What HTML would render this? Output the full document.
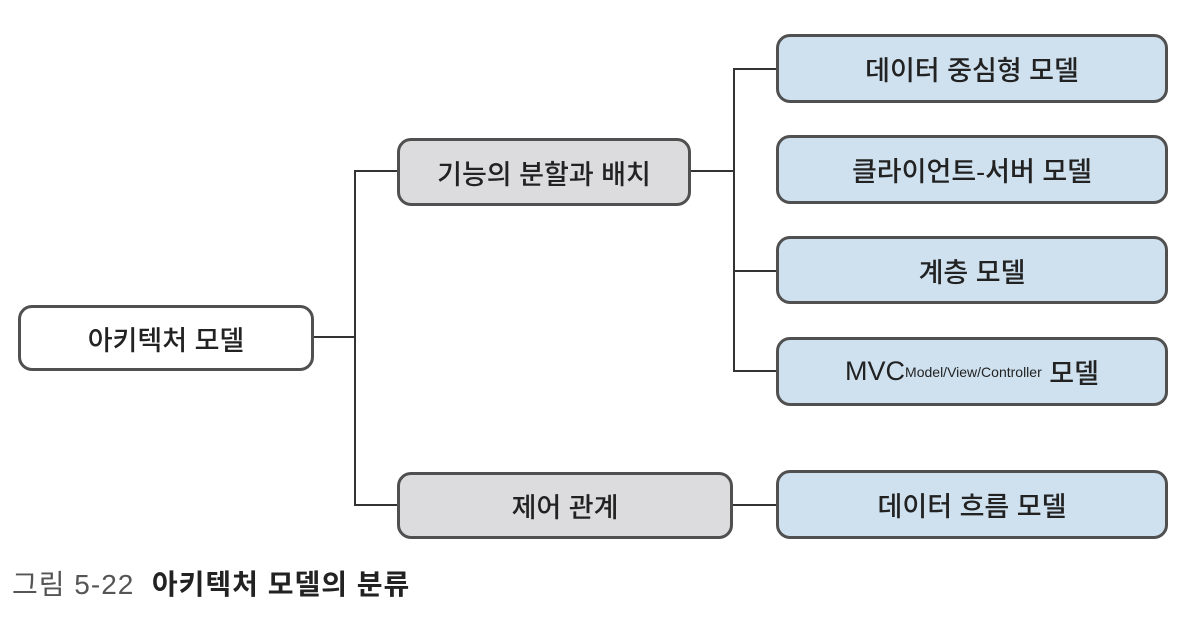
<!DOCTYPE html>
<html><head><meta charset="utf-8"><style>
body{margin:0;width:1190px;height:618px;background:#fff;position:relative;overflow:hidden;font-family:"Liberation Sans","Noto Sans CJK KR","NanumGothic",sans-serif;}
.b{position:absolute;box-sizing:border-box;border:3px solid #505050;border-radius:14px;display:flex;align-items:center;justify-content:center;font-size:27px;color:#222;font-weight:500;}
.g{background:#dcdcde}.u{background:#cfe1ef}.w{background:#fff}
.l{position:absolute;background:#333;}
sup{font-size:14px;vertical-align:14px;}
</style></head><body>
<div class="l" style="left:313px;top:336px;width:42px;height:2px"></div>
<div class="l" style="left:354px;top:170px;width:2px;height:336px"></div>
<div class="l" style="left:354px;top:170px;width:44px;height:2px"></div>
<div class="l" style="left:354px;top:504px;width:44px;height:2px"></div>
<div class="l" style="left:690px;top:170px;width:44px;height:2px"></div>
<div class="l" style="left:733px;top:68px;width:2px;height:304px"></div>
<div class="l" style="left:733px;top:68px;width:45px;height:2px"></div>
<div class="l" style="left:733px;top:270px;width:45px;height:2px"></div>
<div class="l" style="left:733px;top:370px;width:45px;height:2px"></div>
<div class="l" style="left:732px;top:504px;width:46px;height:2px"></div>

<div class="b w" style="left:18px;top:305px;width:296px;height:66px">아키텍처 모델</div>
<div class="b g" style="left:397px;top:138px;width:294px;height:68px">기능의 분할과 배치</div>
<div class="b g" style="left:397px;top:472px;width:336px;height:67px">제어 관계</div>
<div class="b u" style="left:776px;top:34px;width:392px;height:69px">데이터 중심형 모델</div>
<div class="b u" style="left:776px;top:135px;width:392px;height:69px">클라이언트-서버 모델</div>
<div class="b u" style="left:776px;top:236px;width:392px;height:68px">계층 모델</div>
<div class="b u" style="left:776px;top:337px;width:392px;height:69px">MVC<sup>Model/View/Controller</sup>&nbsp;모델</div>
<div class="b u" style="left:776px;top:470px;width:392px;height:69px">데이터 흐름 모델</div>

<div style="position:absolute;left:12px;top:563px;font-size:28px;letter-spacing:1px;color:#555;white-space:nowrap">그림 5-22&nbsp;&nbsp;<b style="color:#222">아키텍처 모델의 분류</b></div>
</body></html>
